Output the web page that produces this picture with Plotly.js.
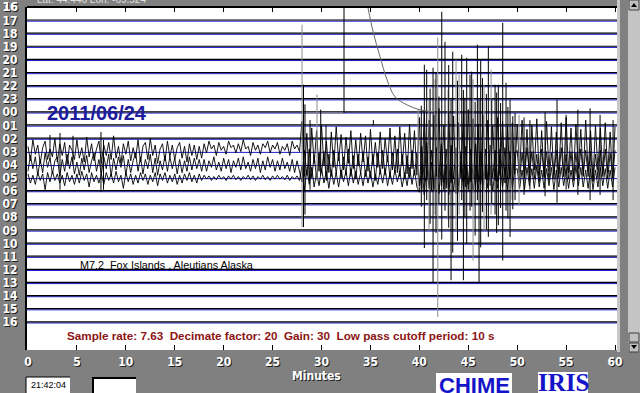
<!DOCTYPE html>
<html><head><meta charset="utf-8">
<script src="https://cdn.plot.ly/plotly-3.0.1.min.js"></script>
<style>html,body{margin:0;padding:0;background:#808080;overflow:hidden}#chart{width:640px;height:393px}</style>
</head><body><div id="chart"></div>
<script>
// ---- data ----
const hourLabels = ['16','17','18','19','20','21','22','23','00','01','02','03','04','05','06','07','08','09','10','11','12','13','14','15','16'];
const minuteTicks = [0,5,10,15,20,25,30,35,40,45,50,55,60];
const noiseStep = 0.25; // minutes between samples
const row03Amp = [0.4,-0.7,0.9,-0.2,0.5,-0.9,0.3,0.8,-0.6,0.2,-0.4,1.0,-0.8,0.6,-0.3,0.7,-1.0,0.5,0.1,-0.6,0.9,-0.5,0.3,-0.8,1.1,-0.4,0.6,-0.7,0.2,0.8,
 -0.9,0.5,-0.3,0.7,-0.6,1.2,-0.5,0.4,-0.9,0.6,-0.2,0.8,-0.7,0.3,-0.5,0.9,-0.8,0.4,0.7,-0.6,1.0,-0.3,0.5,-0.9,0.2,0.6,-0.7,0.8,-0.4,0.5,
 -0.6,0.3,0.7,-0.5,0.4,-0.8,0.6,-0.3,0.5,-0.6,0.4,-0.5,
 0.6,-0.1,0.8,0.2,0.5,-0.3,0.7,0.1,0.4,-0.2,0.8,0.3,0.5,-0.1,0.6,0.0,0.9,0.2,0.4,-0.3,
 0.7,0.1,0.5,-0.2,0.6,0.3,0.8,-0.1,0.5,0.2,0.7,-0.2,0.4,0.1,0.6,-0.3,0.8,0.2,0.5,0.0,
 2.3,-1.9,1.4,-2.2,1.8,-0.9,1.6,-1.5,2.0,-1.1,0.8,-1.6,1.5,-1.2,1.9,-0.7,1.3,-1.4,1.1,-0.9,1.6,-1.3,0.9,-1.1,
 1.4,-0.8,1.2,-1.5,1.7,-1.0,0.7,-1.2,1.5,-1.3,1.0,-0.8,1.8,-1.4,1.2,-1.6,1.9,-1.1,1.4,-1.7,2.1,-1.3,1.6,-1.8,
 2.6,-2.9,3.1,-2.2,2.4,-3.0,2.8,-1.9,3.3,-2.6,2.0,-2.8,3.0,-2.4,2.7,-3.2,2.2,-2.0,2.9,-2.7,
 3.2,-2.3,2.5,-2.9,2.1,-2.5,2.8,-2.1,2.4,-2.6,2.0,-2.2,2.6,-1.8,2.3,-2.4,1.9,-2.0,2.2,-1.7,
 2.1,-1.6,2.4,-1.9,1.7,-2.2,2.0,-1.4,2.5,-1.8,1.6,-2.0,2.3,-1.5,1.9,-2.1,1.5,-1.7,2.2,-1.9,
 2.6,-1.6,1.8,-2.0,2.1,-1.3,1.7,-1.9,2.4,-1.5,1.6,-2.2,2.0,-1.4,1.8,-1.7,2.2,-1.6,1.5,-2.0,1.9];
const row04Amp = [-0.5,0.7,-0.3,0.6,-0.8,0.4,-0.6,0.9,-0.2,0.5,-0.7,0.3,0.6,-0.9,0.4,-0.5,0.8,-0.3,0.6,-0.7,0.2,-0.8,0.5,-0.4,0.7,-0.6,0.3,0.9,-0.5,0.4,
 -0.7,0.6,-0.3,0.8,-0.9,0.5,-0.4,0.6,-0.2,0.7,-0.8,0.4,-0.6,0.3,0.9,-0.5,0.6,-0.7,0.4,-0.3,0.8,-0.6,0.5,-0.8,0.3,-0.4,0.7,-0.5,0.6,-0.3,
 0.5,-0.7,0.4,-0.6,0.3,-0.5,0.6,-0.4,0.5,-0.3,0.4,-0.5,
 0.4,-0.5,0.3,-0.2,0.6,-0.4,0.2,-0.5,0.5,-0.3,0.4,-0.6,0.3,-0.2,0.5,-0.4,0.6,-0.3,0.2,-0.5,
 0.4,-0.3,0.5,-0.6,0.3,-0.4,0.6,-0.2,0.4,-0.5,0.3,-0.4,0.5,-0.3,0.2,-0.5,0.4,-0.6,0.3,-0.4,
 -1.3,1.1,-0.8,1.2,-1.0,0.7,-1.1,0.9,-0.6,1.0,-1.2,0.8,-0.9,1.1,-0.7,0.9,-1.0,0.6,-0.8,1.2,-0.9,0.7,-1.1,0.8,
 -0.7,1.0,-0.9,0.6,-1.0,0.8,-1.2,0.9,-0.7,1.1,-0.8,0.7,-1.0,0.9,-0.6,1.2,-0.9,0.8,-1.1,0.7,-1.0,1.1,-0.8,0.9,
 -1.6,1.4,-1.2,1.7,-1.5,1.1,-1.8,1.3,-1.0,1.6,-1.4,1.2,-1.7,1.5,-1.1,1.3,-1.6,1.0,-1.3,1.4,
 -1.5,1.2,-1.1,1.6,-1.3,1.0,-1.4,1.2,-1.2,1.5,-1.0,1.1,-1.3,1.2,-0.9,1.3,-1.1,1.0,-1.2,0.9,
 1.1,-1.2,0.9,-1.0,1.3,-0.8,1.0,-1.1,0.8,-1.3,1.2,-0.9,1.0,-1.2,0.9,-0.8,1.1,-1.0,1.3,-0.9,
 0.8,-1.1,1.0,-1.2,0.9,-1.0,1.2,-0.8,1.1,-0.9,1.0,-1.3,0.8,-1.0,1.1,-0.9,1.2,-1.1,0.9,-1.0,1.1];
const row05Amp = [0.3,-0.4,0.2,-0.5,0.4,-0.2,0.3,-0.9,0.4,-0.3,0.5,-0.2,0.3,-0.4,0.2,-0.6,0.4,-0.3,0.2,-0.5,0.3,-0.4,0.5,-0.2,0.3,-0.7,0.4,-0.3,0.2,-0.4,
 0.3,-0.5,0.4,-0.2,0.3,-0.4,0.5,-0.3,0.2,-0.8,0.4,-0.3,0.3,-0.5,0.2,-0.4,0.4,-0.2,0.3,-0.5,0.2,-0.3,0.4,-0.6,0.3,-0.2,0.4,-0.4,0.2,-0.3,
 0.3,-0.5,0.2,-0.4,0.3,-0.2,0.4,-0.3,0.2,-0.4,0.3,-0.2,
 0.2,-0.1,0.15,-0.2,0.1,-0.15,0.2,-0.1,0.1,-0.2,0.15,-0.1,0.2,-0.15,0.1,-0.2,0.1,-0.1,0.2,-0.15,
 0.15,-0.2,0.1,-0.1,0.2,-0.15,0.1,-0.2,0.15,-0.1,0.2,-0.1,0.1,-0.15,0.2,-0.2,0.1,-0.1,0.15,-0.2,
 0.9,-1.0,0.6,-0.5,0.8,-0.7,0.4,-0.6,0.7,-0.4,0.5,-0.8,0.6,-0.5,0.4,-0.7,0.6,-0.3,0.5,-0.6,0.7,-0.4,0.5,-0.5,
 0.4,-0.6,0.6,-0.4,0.5,-0.7,0.3,-0.5,0.6,-0.4,0.7,-0.6,0.4,-0.5,0.6,-0.3,0.5,-0.7,0.4,-0.6,0.8,-0.5,0.6,-0.7,
 -1.1,1.0,-1.3,0.9,-0.8,1.2,-1.0,0.8,-1.2,1.1,-0.9,1.0,-1.3,0.8,-1.0,0.9,-1.1,1.2,-0.8,1.0,
 -0.9,0.8,-1.1,0.9,-1.0,0.7,-0.9,1.0,-0.8,0.9,-1.0,0.7,-0.8,0.9,-0.7,0.8,-0.9,0.7,-0.8,0.6,
 0.7,-0.8,0.6,-0.9,0.8,-0.6,0.7,-0.8,0.9,-0.7,0.6,-0.8,0.7,-0.6,0.8,-0.9,0.6,-0.7,0.8,-0.6,
 0.7,-0.8,0.6,-0.7,0.9,-0.6,0.8,-0.7,0.6,-0.8,0.7,-0.9,0.6,-0.7,0.8,-0.6,0.7,-0.8,0.6,-0.7,0.8];
// large excursions (minute, top row position, bottom row position)
const spikeMin = [2.25,3.27,4.6,7.46,7.72,28.16,28.31,28.83,29.92,30.46,32.30,35.3,40.2,40.51,40.75,41.1,41.40,41.7,42.0,42.29,42.62,43.0,43.24,43.41,43.9,44.33,44.50,44.65,44.84,45.18,45.35,45.7,45.93,46.10,46.27,46.45,46.85,47.05,47.4,47.74,47.9,48.07,48.3,48.52,48.86,49.05,49.27,49.55,49.78,50.70,51.3,52.85,54.07,55.0,56.2,57.45,58.47,59.8];
const spikeTop = [8.73,8.58,8.8,8.5,9.1,4.9,6.4,7.6,6.8,8.0,-0.97,7.6,6.5,3.38,3.76,5.2,3.61,4.0,5.8,-0.66,1.63,3.4,6.05,2.39,4.6,2.62,5.3,5.9,2.85,4.15,3.9,6.2,1.85,6.05,3.0,4.4,5.6,2.0,6.0,4.9,5.5,4.9,6.3,0.18,4.76,6.6,6.05,7.3,7.05,7.4,7.6,7.0,6.05,7.2,6.8,6.7,7.2,7.6];
const spikeBottom = [10.6,12.9,11.0,13.07,12.9,15.75,14.8,12.9,11.8,11.8,7.05,8.0,14.2,17.35,13.7,15.5,20.0,16.2,14.0,16.7,14.5,15.8,19.8,17.7,16.8,13.7,19.8,15.0,17.0,14.5,14.2,16.4,13.7,19.95,17.3,14.6,15.9,16.5,14.0,14.8,16.2,15.6,14.3,18.3,14.5,15.1,16.5,14.4,13.7,13.3,12.9,13.4,13.9,12.9,13.3,13.7,13.3,13.7];
const greyMin = [28.01,29.54,39.87,40.99,41.6,41.88,42.93,43.75,44.06,45.49,46.61,47.33,49.47,50.19];
const greyTop = [0.33,5.65,6.8,6.05,4.5,1.32,5.3,3.0,4.15,4.5,4.9,3.76,8.3,7.2];
const greyBottom = [15.75,12.2,12.9,16.0,14.8,22.6,15.2,16.0,14.8,18.3,16.0,14.8,13.7,14.1];
const flatMin = [28.01,32.30];
const flatRow = [7.05,7.05];
const curveMin = [34.75,35.27,35.98,36.70,37.51,38.74,40.07,41.6];
const curveRow = [-0.97,0.86,2.77,4.53,5.82,6.44,6.82,6.97];

// ---- build ----
const xRange = [-0.1, 60.2];
const rowPos = hourLabels.map((_, i) => i - 1);
const traceRows = rowPos.slice(1);
const noisy = {'03': row03Amp, '04': row04Amp, '05': row05Amp};
const noisyRows = Object.keys(noisy).map(l => hourLabels.lastIndexOf(l) - 1);

function segs(rows, off, skip) {
  const x = [], y = [];
  rows.forEach(r => { if (skip && skip.includes(r)) return; x.push(xRange[0], xRange[1], null); y.push(r + off, r + off, null); });
  return {x, y};
}
function vsegs(xs, tops, bots) {
  const x = [], y = [];
  xs.forEach((v, i) => { x.push(v, v, null); y.push(tops[i], bots[i], null); });
  return {x, y};
}
const traces = [];
const blue = segs(traceRows, 0.06);
traces.push({x: blue.x, y: blue.y, mode: 'lines', line: {color: '#1818c8', width: 1}, hoverinfo: 'skip'});
const quiet = segs(traceRows, -0.03, noisyRows);
traces.push({x: quiet.x, y: quiet.y, mode: 'lines', line: {color: '#000', width: 1.2}, hoverinfo: 'skip'});
Object.keys(noisy).forEach(l => {
  const r = hourLabels.lastIndexOf(l) - 1;
  const a = noisy[l];
  traces.push({x: a.map((_, i) => i * noiseStep), y: a.map(v => r - v), mode: 'lines', line: {color: '#000', width: 0.9}, hoverinfo: 'skip'});
});
const g = vsegs(greyMin, greyTop, greyBottom);
traces.push({x: g.x.concat([null], flatMin), y: g.y.concat([null], flatRow), mode: 'lines', line: {color: '#8c8c8c', width: 1}, hoverinfo: 'skip'});
const s = vsegs(spikeMin, spikeTop, spikeBottom);
traces.push({x: s.x, y: s.y, mode: 'lines', line: {color: '#000', width: 1}, hoverinfo: 'skip'});
traces.push({x: curveMin, y: curveRow, mode: 'lines', line: {color: '#6a6a6a', width: 1, shape: 'spline'}, hoverinfo: 'skip'});

const px = v => (v - 27) / 590;
const py = v => (350 - v) / 343;
const lab = {family: 'DejaVu Sans Condensed, DejaVu Sans', size: 12, color: '#ffffff', weight: 'bold', shadow: '1px 1px 0px #202020'};
const shapes = [
  {type: 'line', xref: 'paper', yref: 'paper', x0: 0, x1: 1, y0: 1, y1: 1, line: {color: '#000', width: 2}},
  {type: 'rect', xref: 'paper', yref: 'paper', x0: px(617), x1: px(620), y0: py(352), y1: py(0), fillcolor: '#c8c8c8', line: {width: 0}},
  {type: 'rect', xref: 'paper', yref: 'paper', x0: px(628), x1: px(641), y0: py(352), y1: py(0), fillcolor: '#c4c4c4', line: {width: 0}},
  {type: 'rect', xref: 'paper', yref: 'paper', x0: px(629), x1: px(639), y0: py(10), y1: py(0), fillcolor: '#c0c0c0', line: {color: '#404040', width: 1}},
  {type: 'rect', xref: 'paper', yref: 'paper', x0: px(629), x1: px(639), y0: py(342), y1: py(333), fillcolor: '#c0c0c0', line: {color: '#404040', width: 1}},
  {type: 'rect', xref: 'paper', yref: 'paper', x0: px(629), x1: px(639), y0: py(352), y1: py(343), fillcolor: '#c0c0c0', line: {color: '#404040', width: 1}},
  {type: 'path', xref: 'paper', yref: 'paper', path: `M ${px(631)} ${py(7)} L ${px(637)} ${py(7)} L ${px(634)} ${py(3)} Z`, fillcolor: '#000', line: {width: 0}},
  {type: 'path', xref: 'paper', yref: 'paper', path: `M ${px(631)} ${py(345)} L ${px(637)} ${py(345)} L ${px(634)} ${py(349)} Z`, fillcolor: '#000', line: {width: 0}},
  {type: 'rect', xref: 'paper', yref: 'paper', x0: px(26), x1: px(70), y0: py(394), y1: py(377), fillcolor: '#fff', line: {width: 0}},
  {type: 'path', xref: 'paper', yref: 'paper', path: `M ${px(26)} ${py(394)} L ${px(26)} ${py(377)} L ${px(70)} ${py(377)}`, line: {color: '#000', width: 1}},
  {type: 'rect', xref: 'paper', yref: 'paper', x0: px(92), x1: px(136), y0: py(394), y1: py(377), fillcolor: '#fff', line: {width: 0}},
  {type: 'path', xref: 'paper', yref: 'paper', path: `M ${px(93)} ${py(394)} L ${px(93)} ${py(378)} L ${px(136)} ${py(378)}`, line: {color: '#000', width: 2}},
  {type: 'rect', xref: 'paper', yref: 'paper', x0: px(436), x1: px(512), y0: py(394), y1: py(373), fillcolor: '#fff', line: {width: 0}},
  {type: 'rect', xref: 'paper', yref: 'paper', x0: px(538), x1: px(588), y0: py(394), y1: py(372), fillcolor: '#fff', line: {width: 0}}
];
const annotations = [
  {xref: 'paper', yref: 'paper', x: px(20), y: py(7.3), xanchor: 'right', yanchor: 'middle', text: hourLabels[0], showarrow: false, font: lab},
  {xref: 'paper', yref: 'paper', x: px(35), y: py(0), xanchor: 'left', yanchor: 'middle', text: 'Lat: 44.446 Lon: -69.524', showarrow: false, font: {family: 'Liberation Sans', size: 10, color: '#e0e0e0'}},
  {x: 1.74, y: 7.05, xanchor: 'left', yanchor: 'middle', text: '2011/06/24', showarrow: false, font: {family: 'Liberation Sans', size: 20, color: '#1c1c9c', weight: 'bold'}},
  {x: 5.11, y: 18.64, xanchor: 'left', yanchor: 'middle', text: 'M7.2  Fox Islands , Aleutians Alaska', showarrow: false, font: {family: 'Liberation Sans', size: 10.8, color: '#000'}},
  {x: 3.78, y: 24.05, xanchor: 'left', yanchor: 'middle', text: 'Sample rate: 7.63  Decimate factor: 20  Gain: 30  Low pass cutoff period: 10 s', showarrow: false, font: {family: 'Liberation Sans', size: 11.7, color: '#8c1414', weight: 'bold'}},
  {xref: 'paper', yref: 'paper', x: px(316), y: py(375.5), xanchor: 'center', yanchor: 'middle', text: 'Minutes', showarrow: false, font: lab},
  {xref: 'paper', yref: 'paper', x: px(29), y: py(385), xanchor: 'left', yanchor: 'middle', text: '21:42:04', showarrow: false, font: {family: 'Liberation Sans', size: 9, color: '#000'}},
  {xref: 'paper', yref: 'paper', x: px(474), y: py(371), xanchor: 'center', yanchor: 'top', text: 'CHIME', showarrow: false, font: {family: 'Liberation Sans', size: 22, color: '#1414c8', weight: 'bold'}},
  {xref: 'paper', yref: 'paper', x: px(563), y: py(367), xanchor: 'center', yanchor: 'top', text: 'IRIS', showarrow: false, font: {family: 'Liberation Serif', size: 25, color: '#1414c8', weight: 'bold'}}
];
const layout = {
  width: 640, height: 393,
  margin: {l: 27, r: 23, t: 7, b: 43, pad: 0},
  paper_bgcolor: '#808080', plot_bgcolor: '#ffffff',
  showlegend: false,
  xaxis: {range: xRange, tickvals: minuteTicks, ticktext: minuteTicks.map(String), ticks: 'inside', ticklen: 5, tickwidth: 1, tickcolor: '#000', mirror: 'ticks', showgrid: false, zeroline: false, showline: false, tickfont: lab, ticklabelstandoff: 3, fixedrange: true},
  yaxis: {range: [25.12, -1.02], tickvals: rowPos, ticktext: hourLabels, ticks: '', showgrid: false, zeroline: false, showline: true, linecolor: '#000', linewidth: 2, tickfont: lab, ticklabelstandoff: 5, fixedrange: true},
  shapes, annotations
};
Plotly.newPlot('chart', traces, layout, {staticPlot: true, displayModeBar: false});
</script></body></html>
